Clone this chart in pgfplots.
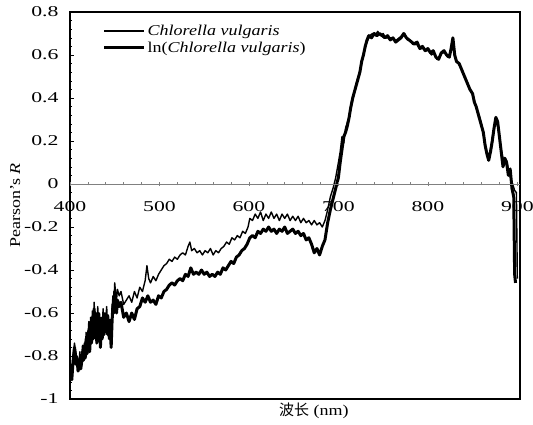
\documentclass[border=0pt]{standalone}
\usepackage{fontspec}
\setmainfont{Liberation Serif}[FakeStretch=1.2]
\newfontfamily\tickfont{Liberation Serif}[FakeStretch=1.45]
\newfontfamily\cjk{Noto Sans CJK SC}
\usepackage{pgfplots}
\pgfplotsset{compat=1.18}
\usepackage{pgfplotstable}
\newcommand{\ff}{\fontsize{15}{18}\selectfont}
\newcommand{\tf}{\tickfont\fontsize{15}{18}\selectfont}

\pgfplotstableread{
x y
400 -0.86
401 -0.84
402 -0.89
403 -0.82
404 -0.78
405 -0.74
406 -0.77
407 -0.82
408 -0.80
409 -0.85
410 -0.83
411 -0.78
412 -0.83
413 -0.80
414 -0.75
415 -0.80
416 -0.74
417 -0.79
418 -0.69
419 -0.77
420 -0.72
421 -0.64
422 -0.75
423 -0.62
424 -0.71
425 -0.59
426 -0.68
427 -0.55
428 -0.66
429 -0.60
430 -0.70
431 -0.57
432 -0.66
433 -0.60
434 -0.72
435 -0.62
436 -0.67
437 -0.58
438 -0.65
439 -0.60
440 -0.63
441 -0.57
442 -0.66
443 -0.61
444 -0.67
445 -0.63
446 -0.71
447 -0.58
448 -0.52
449 -0.56
450 -0.46
451 -0.51
452 -0.54
453 -0.49
455 -0.52
457 -0.50
460 -0.56
463 -0.54
466 -0.52
469 -0.55
472 -0.50
475 -0.53
478 -0.48
481 -0.50
484 -0.45
486 -0.38
488 -0.44
490 -0.46
493 -0.43
496 -0.45
499 -0.42
502 -0.40
505 -0.38
508 -0.37
511 -0.35
514 -0.36
517 -0.34
520 -0.35
523 -0.33
526 -0.32
529 -0.33
532 -0.29
534 -0.27
536 -0.31
539 -0.30
542 -0.32
545 -0.31
548 -0.33
551 -0.31
554 -0.32
557 -0.30
560 -0.33
563 -0.31
566 -0.32
569 -0.30
572 -0.29
575 -0.27
578 -0.28
581 -0.25
584 -0.26
587 -0.24
590 -0.25
593 -0.22
596 -0.23
599 -0.20
601 -0.16
604 -0.17
607 -0.14
610 -0.16
613 -0.13
616 -0.17
619 -0.14
622 -0.16
625 -0.13
628 -0.16
631 -0.14
634 -0.17
637 -0.14
640 -0.16
643 -0.14
646 -0.17
649 -0.15
652 -0.17
655 -0.15
658 -0.18
661 -0.16
664 -0.18
667 -0.17
670 -0.19
673 -0.17
676 -0.19
679 -0.18
682 -0.20
685 -0.17
688 -0.12
691 -0.06
694 -0.02
697 0.03
700 0.10
702 0.15
704 0.22
706 0.19
708 0.26
711 0.30
714 0.35
717 0.41
720 0.47
723 0.51
726 0.56
729 0.62
732 0.66
735 0.69
738 0.70
741 0.69
744 0.71
747 0.69
750 0.70
753 0.68
756 0.68
759 0.68
762 0.67
765 0.67
768 0.68
771 0.69
774 0.70
777 0.67
780 0.67
783 0.65
786 0.66
789 0.64
792 0.63
795 0.63
798 0.62
801 0.62
804 0.60
807 0.61
810 0.58
813 0.59
816 0.61
819 0.61
822 0.59
825 0.61
828 0.67
831 0.58
834 0.56
837 0.54
840 0.51
843 0.48
846 0.45
849 0.43
852 0.39
855 0.34
858 0.31
861 0.26
864 0.19
867 0.12
870 0.16
873 0.24
876 0.30
879 0.25
882 0.16
885 0.10
888 0.11
891 0.05
894 0.01
897 -0.03
899 -0.04
900 -0.44
}\thin

\pgfplotstableread{
x y
400 -0.84
401 -0.88
402 -0.91
403 -0.85
404 -0.80
405 -0.76
406 -0.79
407 -0.84
408 -0.82
409 -0.87
410 -0.85
411 -0.81
412 -0.86
413 -0.83
414 -0.78
415 -0.82
416 -0.77
417 -0.81
418 -0.72
419 -0.79
420 -0.75
421 -0.68
422 -0.78
423 -0.66
424 -0.74
425 -0.62
426 -0.72
427 -0.58
428 -0.70
429 -0.64
430 -0.74
431 -0.60
432 -0.70
433 -0.63
434 -0.76
435 -0.66
436 -0.72
437 -0.62
438 -0.70
439 -0.64
440 -0.68
441 -0.61
442 -0.70
443 -0.66
444 -0.72
445 -0.68
446 -0.76
447 -0.64
448 -0.56
449 -0.60
450 -0.50
451 -0.56
452 -0.60
453 -0.54
455 -0.57
457 -0.55
460 -0.62
463 -0.60
466 -0.64
469 -0.60
472 -0.63
475 -0.58
478 -0.57
481 -0.53
484 -0.55
487 -0.52
490 -0.55
493 -0.54
496 -0.56
499 -0.52
502 -0.53
505 -0.50
508 -0.49
511 -0.47
514 -0.46
517 -0.47
520 -0.45
523 -0.44
526 -0.45
529 -0.42
532 -0.43
535 -0.39
538 -0.42
541 -0.41
544 -0.42
547 -0.40
550 -0.42
553 -0.41
556 -0.43
559 -0.42
562 -0.43
565 -0.41
568 -0.42
571 -0.39
574 -0.40
577 -0.38
580 -0.36
583 -0.37
586 -0.34
589 -0.33
592 -0.31
595 -0.30
598 -0.28
601 -0.25
604 -0.24
607 -0.25
610 -0.22
613 -0.23
616 -0.21
619 -0.22
622 -0.20
625 -0.22
628 -0.21
631 -0.23
634 -0.21
637 -0.22
640 -0.20
643 -0.23
646 -0.22
649 -0.21
652 -0.23
655 -0.22
658 -0.24
661 -0.23
664 -0.26
667 -0.25
670 -0.28
673 -0.32
676 -0.30
679 -0.33
682 -0.29
685 -0.26
688 -0.18
691 -0.12
694 -0.07
697 -0.02
700 0.03
702 0.10
704 0.16
706 0.22
708 0.24
710 0.27
712 0.31
714 0.36
716 0.40
718 0.43
720 0.46
722 0.49
724 0.52
726 0.57
728 0.60
730 0.64
732 0.67
734 0.69
737 0.68
740 0.70
743 0.69
746 0.70
749 0.69
752 0.68
755 0.69
758 0.67
761 0.68
764 0.66
767 0.67
770 0.68
773 0.70
776 0.68
779 0.67
782 0.66
785 0.65
788 0.66
791 0.63
794 0.64
797 0.62
800 0.63
803 0.61
806 0.62
809 0.59
812 0.58
815 0.61
818 0.62
821 0.60
824 0.59
826 0.63
828 0.68
830 0.60
832 0.57
835 0.56
838 0.53
841 0.50
844 0.47
847 0.44
850 0.42
852 0.38
854 0.36
856 0.33
858 0.30
860 0.27
862 0.24
864 0.18
866 0.14
868 0.11
870 0.15
872 0.20
874 0.26
876 0.31
878 0.29
880 0.22
882 0.15
884 0.08
886 0.12
888 0.10
890 0.04
892 0.07
894 -0.02
896 -0.06
897 -0.42
898 -0.46
}\thick

\begin{document}
\begin{tikzpicture}
\useasboundingbox (-70pt,-25pt) rectangle (463pt,399pt);
\begin{axis}[
  at={(0pt,0pt)}, anchor=south west,
  scale only axis, width=450pt, height=387pt,
  xmin=400, xmax=903, ymin=-1, ymax=0.8,
  xtick=\empty,
  ytick={-1,-0.8,-0.6,-0.4,-0.2,0,0.2,0.4,0.6,0.8},
  yticklabels={-1,-0.8,-0.6,-0.4,-0.2,0,0.2,0.4,0.6,0.8},
  ytick pos=left, tick align=inside,
  minor y tick num=4,
  major tick length=4pt, minor tick length=2pt,
  tick style={black, line width=0.6pt},
  axis line style={line width=1.3pt},
  yticklabel style={font=\tf, xshift=-8pt},
  ylabel={Pearson's \textit{R}},
  ylabel style={font=\ff, at={(axis description cs:-0.122,0.5)}, anchor=center},
  xlabel={{\cjk 波长} (nm)},
  xlabel style={font=\ff, at={(axis description cs:0.542,-0.031)}, anchor=center},
  legend style={draw=none, fill=none, font=\ff, at={(axis description cs:0.07,0.975)}, anchor=north west, row sep=1pt, inner sep=1pt},
  legend cell align=left,
  legend image code/.code={\draw[#1] (0pt,0pt) -- (40pt,0pt);},
  clip=true,
]
\addplot[black, line width=1.4pt, line join=round] table[x=x,y=y] {\thin};
\addlegendentry{\textit{Chlorella vulgaris}}
\addplot[black, line width=3pt, line join=round] table[x=x,y=y] {\thick};
\addlegendentry{ln(\textit{Chlorella vulgaris})}
\end{axis}
\begin{axis}[
  at={(0pt,0pt)}, anchor=south west,
  scale only axis, width=450pt, height=387pt,
  xmin=400, xmax=903, ymin=-1, ymax=0.8,
  axis x line=middle, axis y line=none,
  axis line style={gray, line width=0.6pt, -},
  xtick={400,500,600,700,800,900},
  minor x tick num=4,
  hide obscured x ticks=false,
  major tick length=4pt, minor tick length=3pt,
  tick style={gray, line width=0.6pt},
  xticklabel style={font=\tf, yshift=-12pt, fill=none},
  xticklabels={400,500,600,700,800,900},
]
\end{axis}
\end{tikzpicture}
\end{document}
